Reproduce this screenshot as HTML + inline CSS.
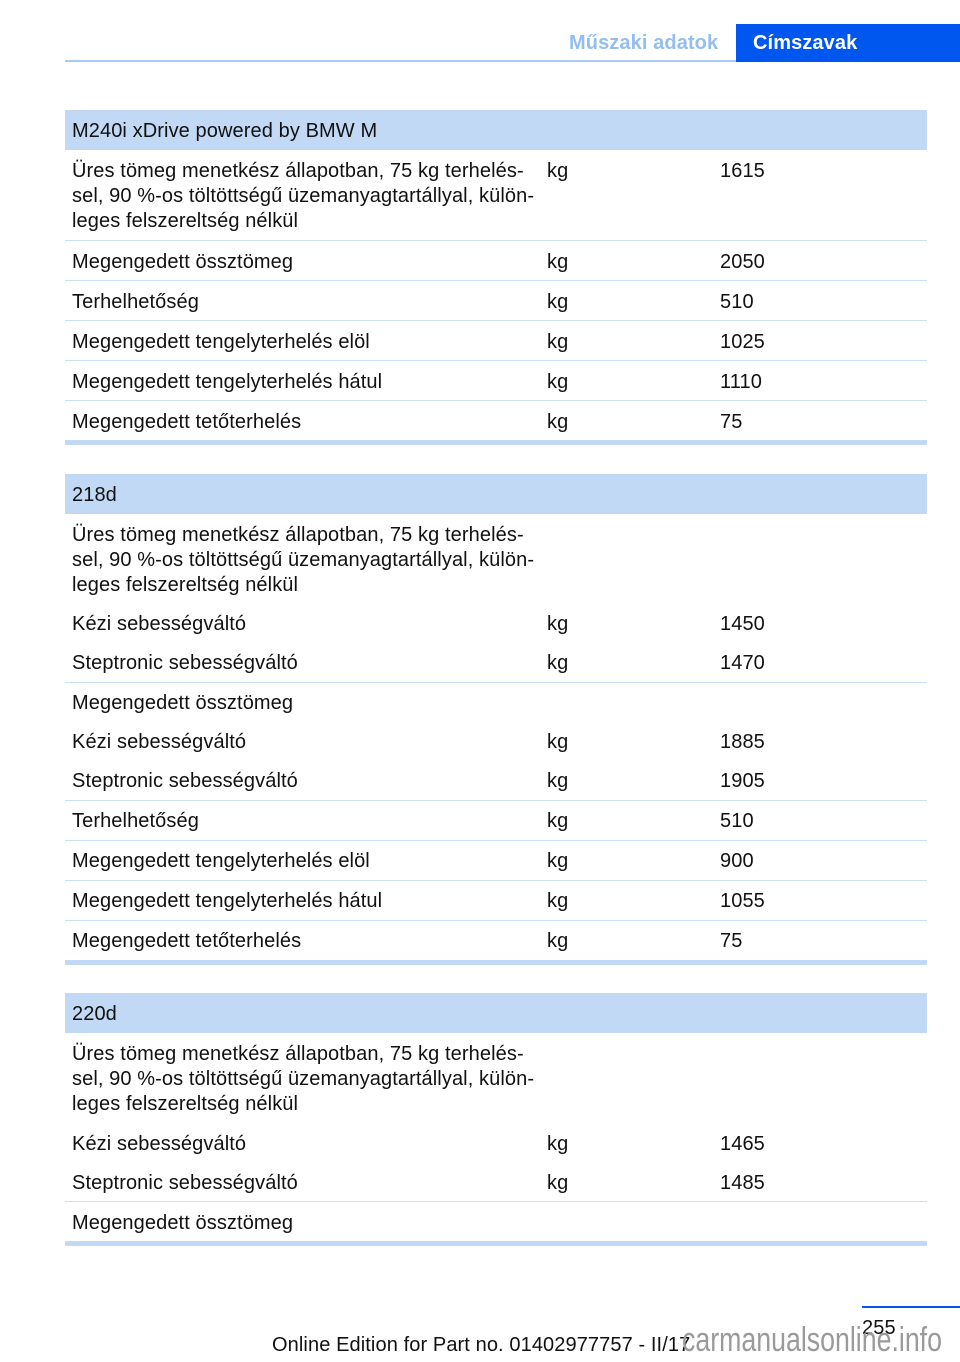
<!DOCTYPE html>
<html><head><meta charset="utf-8">
<style>
html,body{margin:0;padding:0;background:#fff;}
body{width:960px;height:1362px;position:relative;overflow:hidden;font-family:"Liberation Sans",Arial,sans-serif;color:#111;}
.t{position:absolute;font-size:20px;line-height:25px;white-space:nowrap;margin-top:1px;letter-spacing:0.1px;}
.band{position:absolute;left:65px;width:862px;height:40px;background:#c2d9f5;}
.sep{position:absolute;left:65px;width:862px;height:1px;background:#cadef6;}
.thick{position:absolute;left:65px;width:862px;height:5px;background:#c2d9f5;}
</style></head><body>

<!-- header -->
<div style="position:absolute;left:65px;top:60px;width:671px;height:2px;background:#a9cbf2;"></div>
<div style="position:absolute;left:736px;top:24px;width:224px;height:38px;background:#0057f0;"></div>
<div class="t" style="left:569px;top:30px;font-weight:bold;color:#92bef0;">Műszaki adatok</div>
<div class="t" style="left:753px;top:30px;font-weight:bold;color:#fff;">Címszavak</div>

<!-- Section 1 -->
<div class="band" style="top:110px;"></div>
<div class="t" style="left:72px;top:118px;">M240i xDrive powered by BMW M</div>
<div class="t" style="left:72px;top:158px;">Üres tömeg menetkész állapotban, 75 kg terhelés-<br>sel, 90 %-os töltöttségű üzemanyagtartállyal, külön-<br>leges felszereltség nélkül</div>
<div class="t" style="left:547px;top:158px;">kg</div>
<div class="t" style="left:720px;top:158px;">1615</div>
<div class="sep" style="top:240px;"></div>
<div class="t" style="left:72px;top:249px;">Megengedett össztömeg</div>
<div class="t" style="left:547px;top:249px;">kg</div>
<div class="t" style="left:720px;top:249px;">2050</div>
<div class="sep" style="top:280px;"></div>
<div class="t" style="left:72px;top:289px;">Terhelhetőség</div>
<div class="t" style="left:547px;top:289px;">kg</div>
<div class="t" style="left:720px;top:289px;">510</div>
<div class="sep" style="top:320px;"></div>
<div class="t" style="left:72px;top:329px;">Megengedett tengelyterhelés elöl</div>
<div class="t" style="left:547px;top:329px;">kg</div>
<div class="t" style="left:720px;top:329px;">1025</div>
<div class="sep" style="top:360px;"></div>
<div class="t" style="left:72px;top:369px;">Megengedett tengelyterhelés hátul</div>
<div class="t" style="left:547px;top:369px;">kg</div>
<div class="t" style="left:720px;top:369px;">1110</div>
<div class="sep" style="top:400px;"></div>
<div class="t" style="left:72px;top:409px;">Megengedett tetőterhelés</div>
<div class="t" style="left:547px;top:409px;">kg</div>
<div class="t" style="left:720px;top:409px;">75</div>
<div class="thick" style="top:440px;"></div>

<!-- Section 2 -->
<div class="band" style="top:474px;"></div>
<div class="t" style="left:72px;top:482px;">218d</div>
<div class="t" style="left:72px;top:522px;">Üres tömeg menetkész állapotban, 75 kg terhelés-<br>sel, 90 %-os töltöttségű üzemanyagtartállyal, külön-<br>leges felszereltség nélkül</div>
<div class="t" style="left:72px;top:611px;">Kézi sebességváltó</div>
<div class="t" style="left:547px;top:611px;">kg</div>
<div class="t" style="left:720px;top:611px;">1450</div>
<div class="t" style="left:72px;top:650px;">Steptronic sebességváltó</div>
<div class="t" style="left:547px;top:650px;">kg</div>
<div class="t" style="left:720px;top:650px;">1470</div>
<div class="sep" style="top:682px;"></div>
<div class="t" style="left:72px;top:690px;">Megengedett össztömeg</div>
<div class="t" style="left:72px;top:729px;">Kézi sebességváltó</div>
<div class="t" style="left:547px;top:729px;">kg</div>
<div class="t" style="left:720px;top:729px;">1885</div>
<div class="t" style="left:72px;top:768px;">Steptronic sebességváltó</div>
<div class="t" style="left:547px;top:768px;">kg</div>
<div class="t" style="left:720px;top:768px;">1905</div>
<div class="sep" style="top:800px;"></div>
<div class="t" style="left:72px;top:808px;">Terhelhetőség</div>
<div class="t" style="left:547px;top:808px;">kg</div>
<div class="t" style="left:720px;top:808px;">510</div>
<div class="sep" style="top:840px;"></div>
<div class="t" style="left:72px;top:848px;">Megengedett tengelyterhelés elöl</div>
<div class="t" style="left:547px;top:848px;">kg</div>
<div class="t" style="left:720px;top:848px;">900</div>
<div class="sep" style="top:880px;"></div>
<div class="t" style="left:72px;top:888px;">Megengedett tengelyterhelés hátul</div>
<div class="t" style="left:547px;top:888px;">kg</div>
<div class="t" style="left:720px;top:888px;">1055</div>
<div class="sep" style="top:920px;"></div>
<div class="t" style="left:72px;top:928px;">Megengedett tetőterhelés</div>
<div class="t" style="left:547px;top:928px;">kg</div>
<div class="t" style="left:720px;top:928px;">75</div>
<div class="thick" style="top:960px;"></div>

<!-- Section 3 -->
<div class="band" style="top:993px;"></div>
<div class="t" style="left:72px;top:1001px;">220d</div>
<div class="t" style="left:72px;top:1041px;">Üres tömeg menetkész állapotban, 75 kg terhelés-<br>sel, 90 %-os töltöttségű üzemanyagtartállyal, külön-<br>leges felszereltség nélkül</div>
<div class="t" style="left:72px;top:1131px;">Kézi sebességváltó</div>
<div class="t" style="left:547px;top:1131px;">kg</div>
<div class="t" style="left:720px;top:1131px;">1465</div>
<div class="t" style="left:72px;top:1170px;">Steptronic sebességváltó</div>
<div class="t" style="left:547px;top:1170px;">kg</div>
<div class="t" style="left:720px;top:1170px;">1485</div>
<div class="sep" style="top:1201px;"></div>
<div class="t" style="left:72px;top:1210px;">Megengedett össztömeg</div>
<div class="thick" style="top:1241px;"></div>

<!-- Footer -->
<div style="position:absolute;left:862px;top:1306px;width:98px;height:2px;background:#0057f0;"></div>
<div class="t" style="left:862px;top:1315px;">255</div>
<div class="t" style="left:272px;top:1332px;">Online Edition for Part no. 01402977757 - II/17</div>
<div style="position:absolute;left:682px;top:1323px;font-size:34px;line-height:34px;white-space:nowrap;color:#9a9a9a;transform:scaleX(0.786);transform-origin:0 0;">carmanualsonline.info</div>

</body></html>
